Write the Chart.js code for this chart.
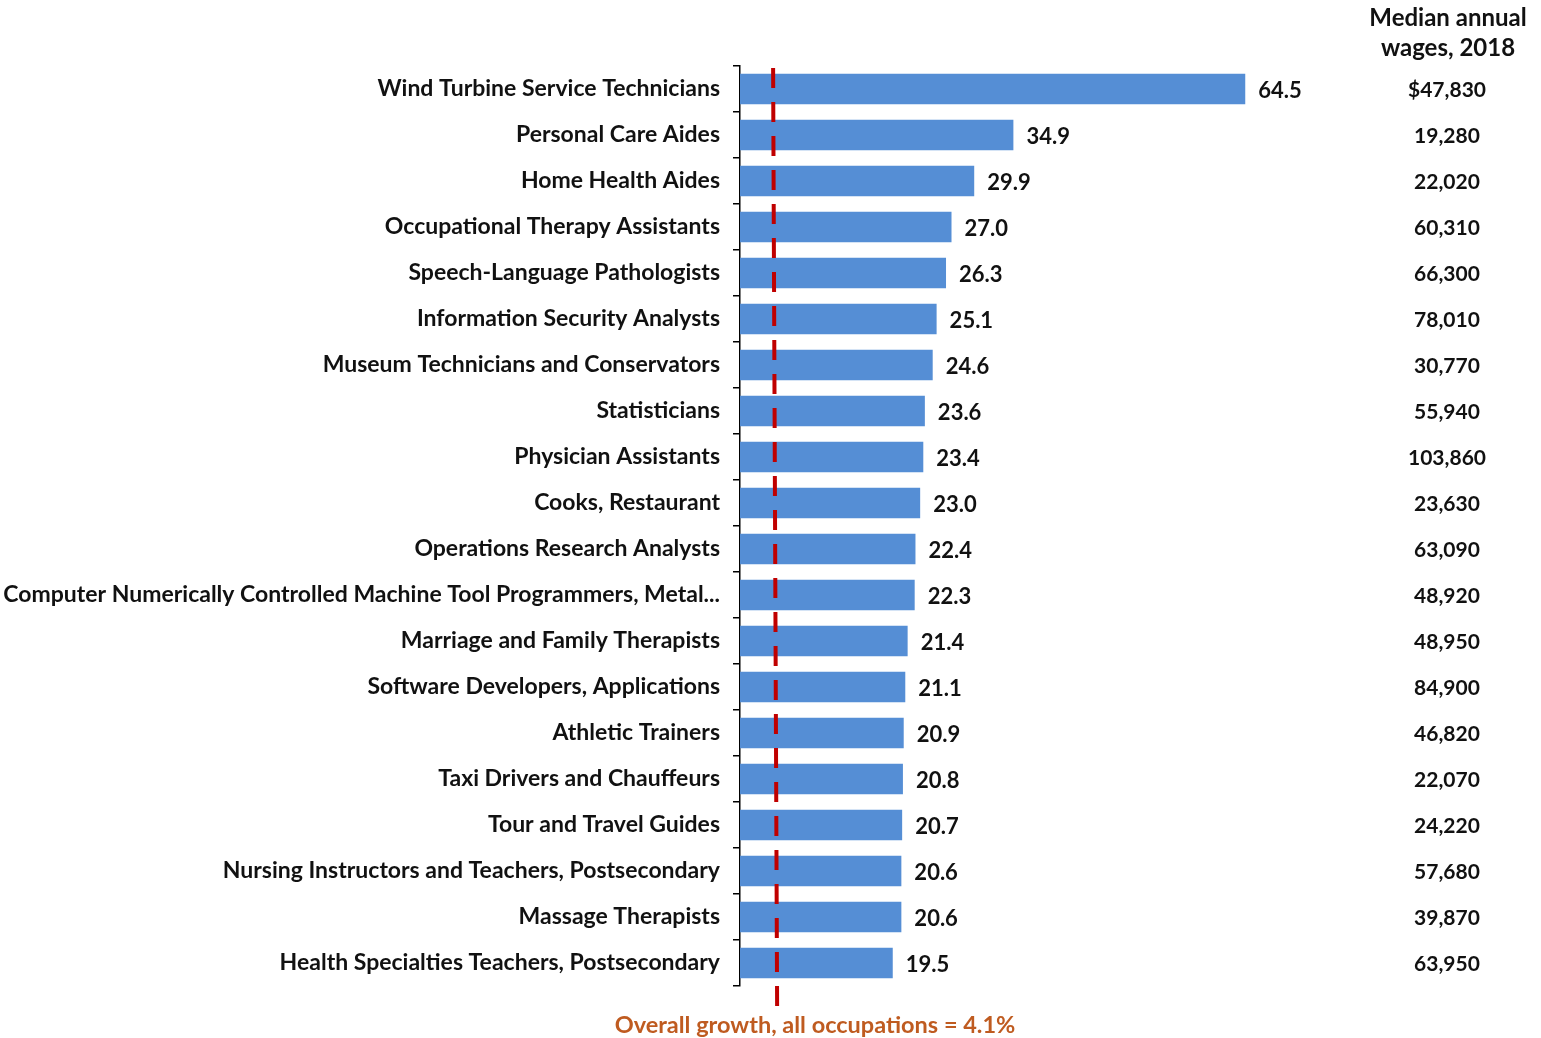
<!DOCTYPE html>
<html>
<head>
<meta charset="utf-8">
<script src="https://cdn.jsdelivr.net/npm/chart.js@4/dist/chart.umd.min.js"></script>
<style>
html,body{margin:0;padding:0;background:#fff;}
#wrap{position:relative;width:1541px;height:1038px;}
</style>
</head>
<body>
<div id="wrap"><canvas id="c" width="1541" height="1038"></canvas></div>
<script>
const occupations = [
  "Wind Turbine Service Technicians",
  "Personal Care Aides",
  "Home Health Aides",
  "Occupational Therapy Assistants",
  "Speech-Language Pathologists",
  "Information Security Analysts",
  "Museum Technicians and Conservators",
  "Statisticians",
  "Physician Assistants",
  "Cooks, Restaurant",
  "Operations Research Analysts",
  "Computer Numerically Controlled Machine Tool Programmers, Metal...",
  "Marriage and Family Therapists",
  "Software Developers, Applications",
  "Athletic Trainers",
  "Taxi Drivers and Chauffeurs",
  "Tour and Travel Guides",
  "Nursing Instructors and Teachers, Postsecondary",
  "Massage Therapists",
  "Health Specialties Teachers, Postsecondary"
];
const growthPct = [64.5, 34.9, 29.9, 27.0, 26.3, 25.1, 24.6, 23.6, 23.4, 23.0, 22.4, 22.3, 21.4, 21.1, 20.9, 20.8, 20.7, 20.6, 20.6, 19.5];
const medianWages = ["$47,830", "19,280", "22,020", "60,310", "66,300", "78,010", "30,770", "55,940", "103,860", "23,630", "63,090", "48,920", "48,950", "84,900", "46,820", "22,070", "24,220", "57,680", "39,870", "63,950"];
const wagesHeader = ["Median annual", "wages, 2018"];
const overallGrowth = 4.1;
const footerText = "Overall growth, all occupations = 4.1%";

const FONT = "Lato, 'Open Sans', sans-serif";

const extras = {
  id: 'extras',
  afterDatasetsDraw(chart) {
    const ctx = chart.ctx;
    const x = chart.scales.x;
    const meta = chart.getDatasetMeta(0);
    ctx.save();
    // value labels
    ctx.font = "bold 22px " + FONT;
    ctx.fillStyle = "#111";
    ctx.textAlign = "left";
    ctx.textBaseline = "middle";
    meta.data.forEach((bar, i) => {
      ctx.fillText(growthPct[i].toFixed(1), bar.x + 13, bar.y + 2);
    });
    // dashed overall-growth line
    const xp = x.getPixelForValue(overallGrowth);
    ctx.strokeStyle = "#C00000";
    ctx.lineWidth = 4;
    ctx.setLineDash([20, 14]);
    ctx.beginPath();
    ctx.moveTo(xp + 1, chart.chartArea.top + 2);
    ctx.lineTo(xp + 5, 1006);
    ctx.stroke();
    ctx.setLineDash([]);
    // wages column
    ctx.fillStyle = "#111";
    ctx.textAlign = "center";
    ctx.font = "bold 24px " + FONT;
    ctx.fillText(wagesHeader[0], 1448, 18);
    ctx.fillText(wagesHeader[1], 1448, 48);
    ctx.font = "bold 21px " + FONT;
    meta.data.forEach((bar, i) => {
      ctx.fillText(medianWages[i], 1447, bar.y + 1);
    });
    // footer
    ctx.fillStyle = "#BF5B20";
    ctx.font = "bold 23.5px " + FONT;
    ctx.fillText(footerText, 815, 1025);
    ctx.restore();
  }
};

new Chart(document.getElementById('c'), {
  type: 'bar',
  data: {
    labels: occupations,
    datasets: [{
      data: growthPct,
      backgroundColor: '#558ED5',
      borderWidth: 0,
      categoryPercentage: 1.0,
      barPercentage: 0.66
    }]
  },
  plugins: [extras],
  options: {
    indexAxis: 'y',
    responsive: false,
    animation: false,
    layout: { padding: { top: 66, bottom: 52, left: 0, right: 237 } },
    plugins: { legend: { display: false }, tooltip: { enabled: false } },
    scales: {
      x: {
        display: false,
        min: 0,
        max: 72
      },
      y: {
        afterFit(scale) { scale.width = 740; },
        border: { display: true, color: '#000', width: 1.5 },
        grid: { drawOnChartArea: false, drawTicks: true, tickLength: 7, color: '#000', lineWidth: 1.5, offset: true },
        ticks: {
          color: '#111',
          padding: 13,
          autoSkip: false,
          font: { family: FONT, size: 23, weight: 'bold' }
        }
      }
    }
  }
});
</script>
</body>
</html>
